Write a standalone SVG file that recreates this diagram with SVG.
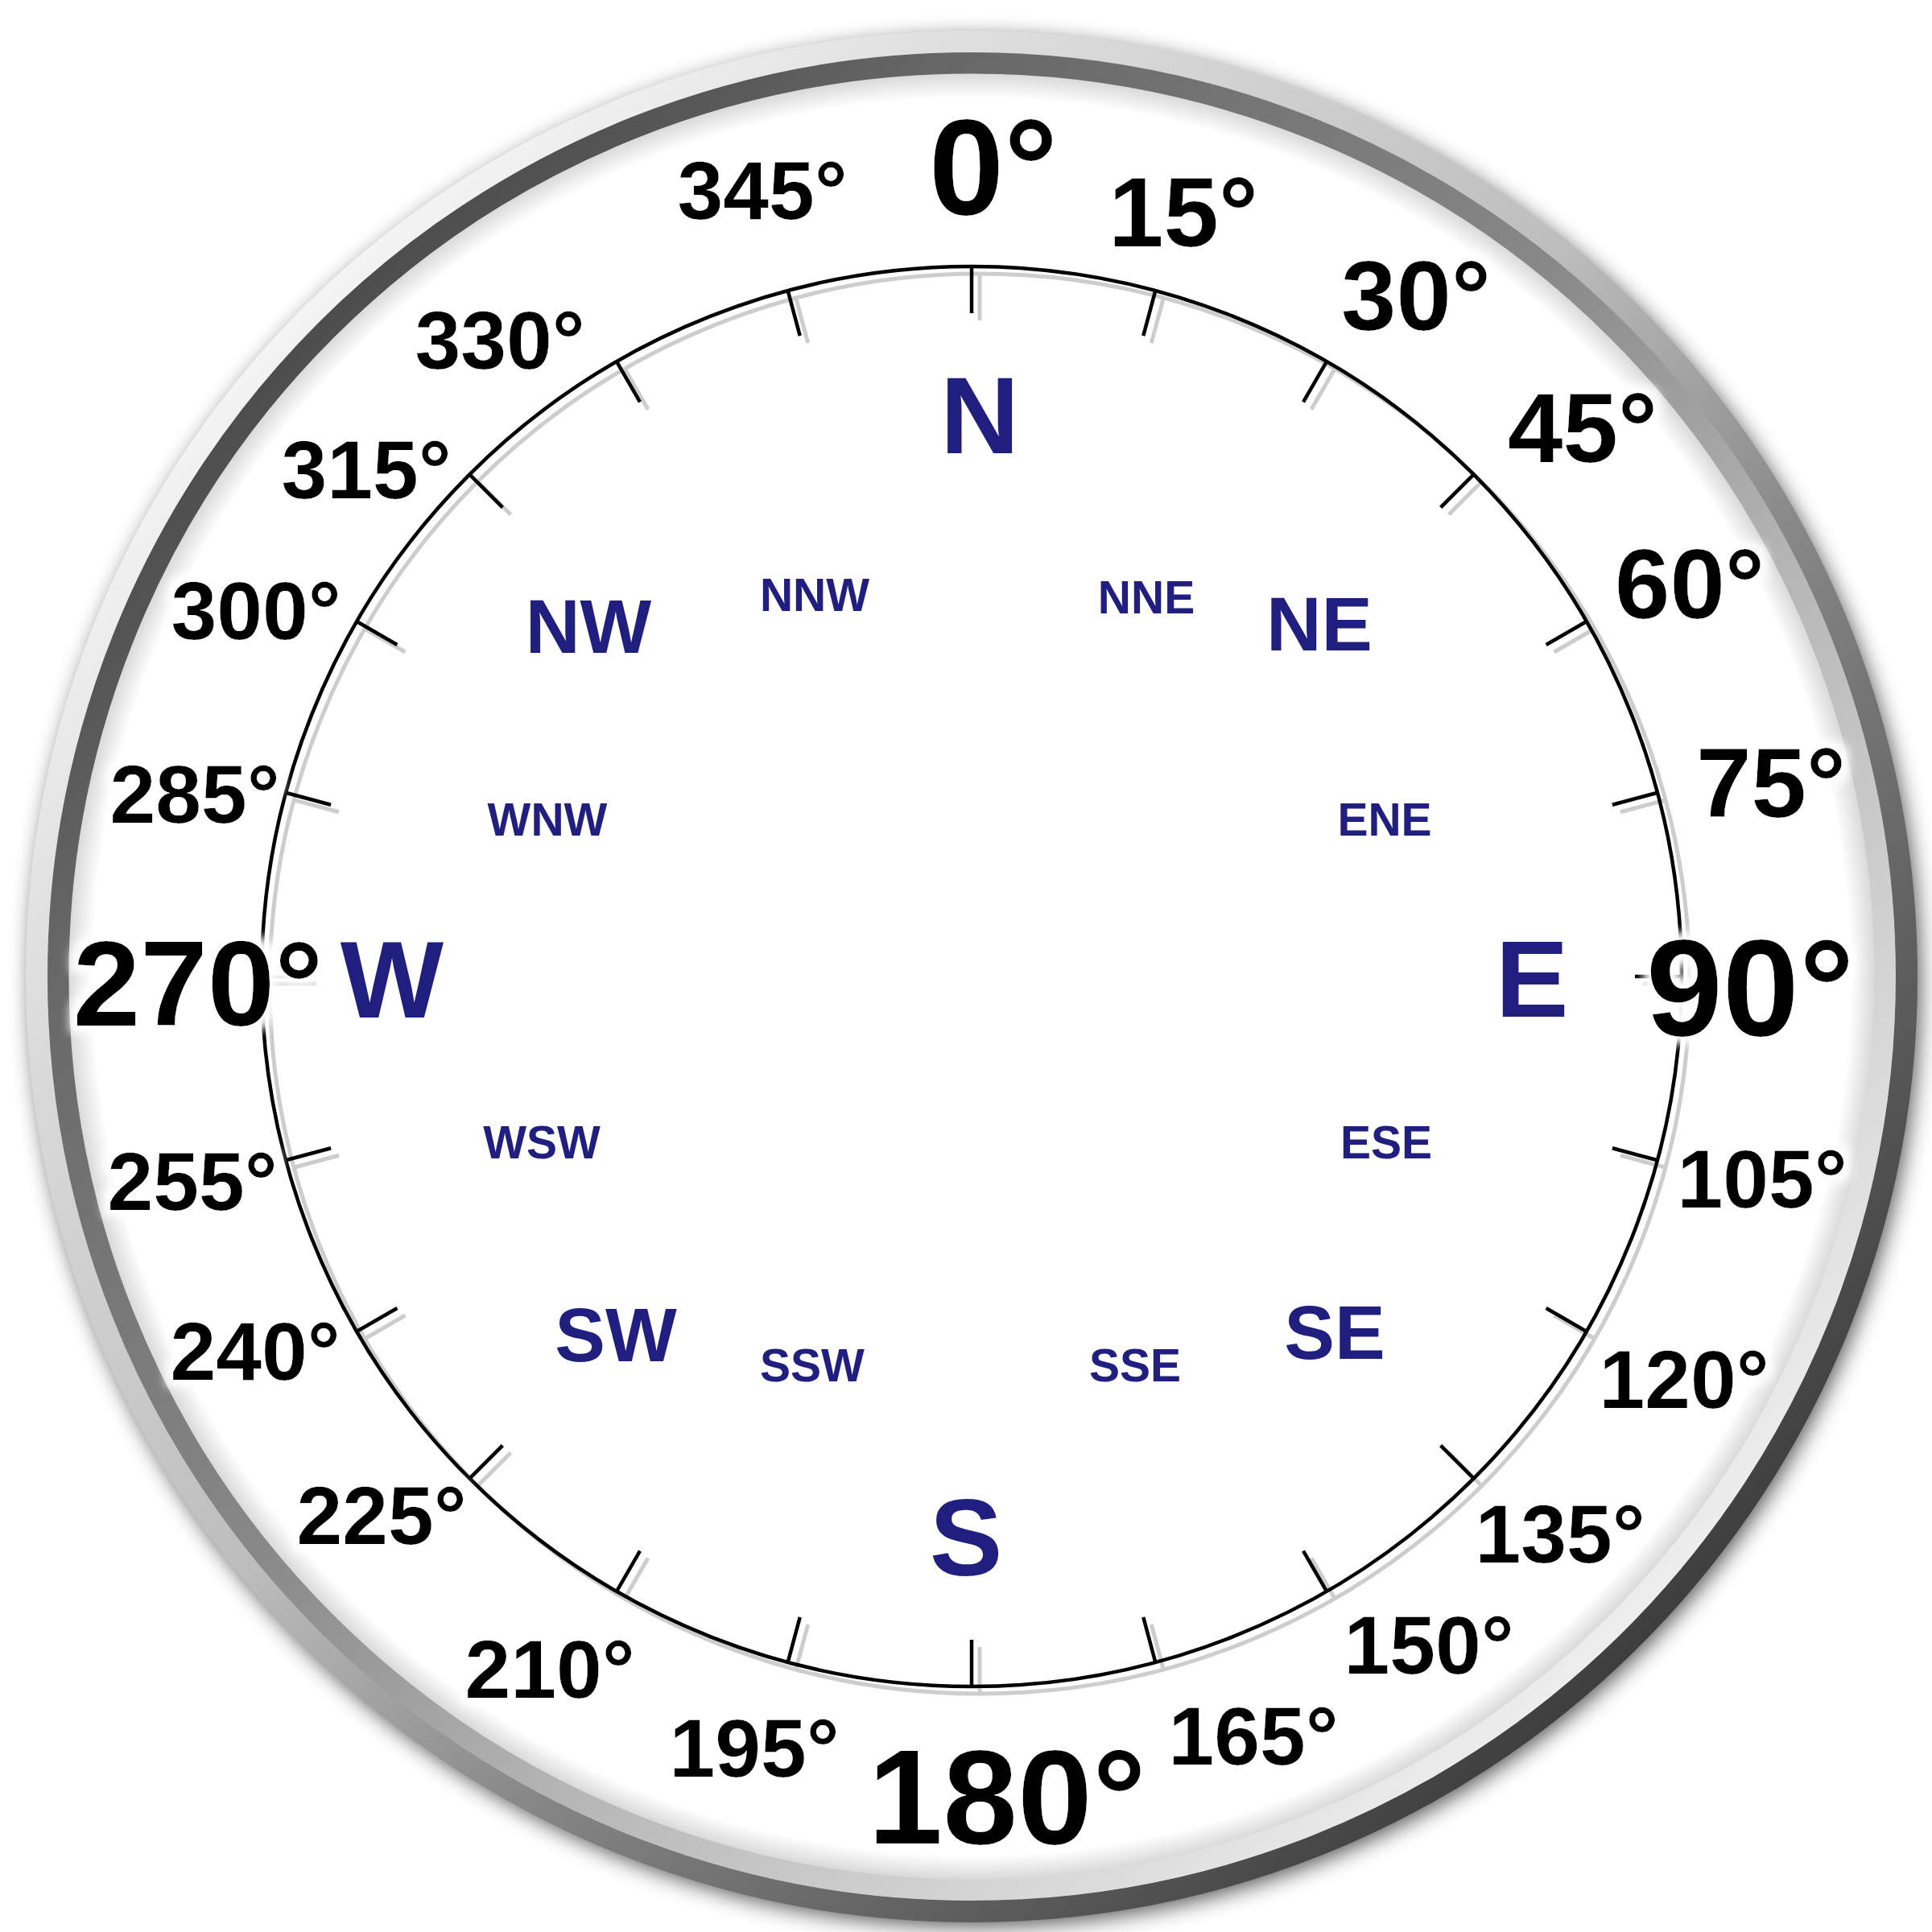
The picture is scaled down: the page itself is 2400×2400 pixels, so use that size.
<svg xmlns="http://www.w3.org/2000/svg" xmlns:xlink="http://www.w3.org/1999/xlink" width="2400" height="2400" viewBox="0 0 2400 2400">
  <style>
    .deg { font-family: "Liberation Sans", Arial, sans-serif; font-weight: bold; fill: #000; text-anchor: middle; }
    .pt { font-family: "Liberation Sans", Arial, sans-serif; font-weight: bold; fill: #201f80; text-anchor: middle; }
  </style>
  <defs>
    <filter id="shadow" x="-10%" y="-10%" width="120%" height="120%">
      <feGaussianBlur stdDeviation="14"/>
    </filter>
    <filter id="halo" x="-20%" y="-30%" width="140%" height="160%">
      <feMorphology in="SourceAlpha" operator="dilate" radius="9" result="d"/>
      <feGaussianBlur in="d" stdDeviation="6" result="b"/>
      <feFlood flood-color="#ffffff"/>
      <feComposite in2="b" operator="in" result="h"/>
      <feMerge><feMergeNode in="h"/><feMergeNode in="SourceGraphic"/></feMerge>
    </filter>
    <linearGradient id="gOuter" gradientUnits="userSpaceOnUse" x1="376" y1="382" x2="2038" y2="2044">
      <stop offset="0" stop-color="#f4f4f4"/>
      <stop offset="0.15" stop-color="#dedede"/>
      <stop offset="0.45" stop-color="#bdbdbd"/>
      <stop offset="0.65" stop-color="#858585"/>
      <stop offset="0.85" stop-color="#5d5d5d"/>
      <stop offset="1" stop-color="#3e3e3e"/>
    </linearGradient>
    <linearGradient id="gInner" gradientUnits="userSpaceOnUse" x1="376" y1="382" x2="2038" y2="2044">
      <stop offset="0" stop-color="#4a4a4a"/>
      <stop offset="0.15" stop-color="#676767"/>
      <stop offset="0.45" stop-color="#888888"/>
      <stop offset="0.65" stop-color="#b5b5b5"/>
      <stop offset="0.85" stop-color="#d5d5d5"/>
      <stop offset="1" stop-color="#f0f0f0"/>
    </linearGradient>
    <radialGradient id="gFace" gradientUnits="userSpaceOnUse" cx="1207" cy="1213" r="1123">
      <stop offset="0.972" stop-color="#ffffff"/>
      <stop offset="1" stop-color="#d8d8d8"/>
    </radialGradient>
    <line id="tk" x1="1207" y1="331" x2="1207" y2="389"/>
    <g id="scale">
      <circle cx="1207" cy="1213" r="882" fill="none"/>
      <use xlink:href="#tk"/>
      <use xlink:href="#tk" transform="rotate(15 1207 1213)"/>
      <use xlink:href="#tk" transform="rotate(30 1207 1213)"/>
      <use xlink:href="#tk" transform="rotate(45 1207 1213)"/>
      <use xlink:href="#tk" transform="rotate(60 1207 1213)"/>
      <use xlink:href="#tk" transform="rotate(75 1207 1213)"/>
      <use xlink:href="#tk" transform="rotate(90 1207 1213)"/>
      <use xlink:href="#tk" transform="rotate(105 1207 1213)"/>
      <use xlink:href="#tk" transform="rotate(120 1207 1213)"/>
      <use xlink:href="#tk" transform="rotate(135 1207 1213)"/>
      <use xlink:href="#tk" transform="rotate(150 1207 1213)"/>
      <use xlink:href="#tk" transform="rotate(165 1207 1213)"/>
      <use xlink:href="#tk" transform="rotate(180 1207 1213)"/>
      <use xlink:href="#tk" transform="rotate(195 1207 1213)"/>
      <use xlink:href="#tk" transform="rotate(210 1207 1213)"/>
      <use xlink:href="#tk" transform="rotate(225 1207 1213)"/>
      <use xlink:href="#tk" transform="rotate(240 1207 1213)"/>
      <use xlink:href="#tk" transform="rotate(255 1207 1213)"/>
      <use xlink:href="#tk" transform="rotate(270 1207 1213)"/>
      <use xlink:href="#tk" transform="rotate(285 1207 1213)"/>
      <use xlink:href="#tk" transform="rotate(300 1207 1213)"/>
      <use xlink:href="#tk" transform="rotate(315 1207 1213)"/>
      <use xlink:href="#tk" transform="rotate(330 1207 1213)"/>
      <use xlink:href="#tk" transform="rotate(345 1207 1213)"/>
    </g>
  </defs>

  <rect width="2400" height="2400" fill="#ffffff"/>

  <g id="bezel">
    <circle cx="1212" cy="1220" r="1172" fill="#000" opacity="0.7" filter="url(#shadow)"/>
    <circle cx="1207" cy="1213" r="1135" fill="url(#gFace)"/>
    <circle cx="1207" cy="1213" r="1135" fill="none" stroke="url(#gInner)" stroke-width="27"/>
    <circle cx="1207" cy="1213" r="1161.5" fill="none" stroke="url(#gOuter)" stroke-width="27"/>
  </g>

  <g id="dial">
    <use xlink:href="#scale" transform="translate(10 9)" stroke="#cdcdcd" stroke-width="5"/>
    <use xlink:href="#scale" stroke="#000000" stroke-width="4.5"/>
  </g>

  <g id="degrees" filter="url(#halo)">
    <text class="deg" x="947" y="272" font-size="102">345°</text>
    <text class="deg" x="1234" y="266" font-size="168">0°</text>
    <text class="deg" x="1470" y="306" font-size="123">15°</text>
    <text class="deg" x="1759" y="410" font-size="123">30°</text>
    <text class="deg" x="1966" y="574" font-size="123">45°</text>
    <text class="deg" x="2099" y="768" font-size="123">60°</text>
    <text class="deg" x="2200" y="1015" font-size="123">75°</text>
    <text class="deg" x="2174" y="1286" font-size="171">90°</text>
    <text class="deg" x="2189" y="1500" font-size="102">105°</text>
    <text class="deg" x="2092" y="1749" font-size="102">120°</text>
    <text class="deg" x="1938" y="1941" font-size="102">135°</text>
    <text class="deg" x="1775" y="2079" font-size="102">150°</text>
    <text class="deg" x="1557" y="2192" font-size="102">165°</text>
    <text class="deg" x="1251" y="2290" font-size="167">180°</text>
    <text class="deg" x="937" y="2207" font-size="102">195°</text>
    <text class="deg" x="683" y="2109" font-size="102">210°</text>
    <text class="deg" x="474" y="1918" font-size="102">225°</text>
    <text class="deg" x="317" y="1714" font-size="102">240°</text>
    <text class="deg" x="239" y="1503" font-size="102">255°</text>
    <text class="deg" x="246" y="1274" font-size="150">270°</text>
    <text class="deg" x="242" y="1022" font-size="102">285°</text>
    <text class="deg" x="318" y="794" font-size="102">300°</text>
    <text class="deg" x="455" y="619" font-size="102">315°</text>
    <text class="deg" x="621" y="458" font-size="102">330°</text>
  </g>

  <g id="points">
    <text class="pt" x="1217" y="563" font-size="136">N</text>
    <text class="pt" x="1903" y="1263" font-size="136">E</text>
    <text class="pt" x="1200" y="1957" font-size="136">S</text>
    <text class="pt" x="487" y="1264" font-size="136">W</text>
    <text class="pt" x="1639" y="808" font-size="95">NE</text>
    <text class="pt" x="1658" y="1688" font-size="94">SE</text>
    <text class="pt" x="765" y="1691" font-size="94">SW</text>
    <text class="pt" x="731" y="811" font-size="94">NW</text>
    <text class="pt" x="1012" y="759" font-size="57">NNW</text>
    <text class="pt" x="1424" y="762" font-size="57">NNE</text>
    <text class="pt" x="1720" y="1038" font-size="57">ENE</text>
    <text class="pt" x="1722" y="1439" font-size="57">ESE</text>
    <text class="pt" x="1410" y="1716" font-size="57">SSE</text>
    <text class="pt" x="1009" y="1716" font-size="57">SSW</text>
    <text class="pt" x="673" y="1439" font-size="57">WSW</text>
    <text class="pt" x="680" y="1038" font-size="57">WNW</text>
  </g>
</svg>
